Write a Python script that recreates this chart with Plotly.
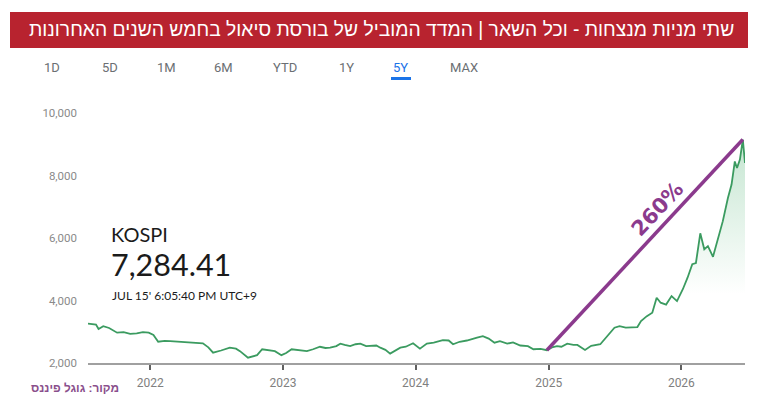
import plotly.graph_objects as go

# ---------------- data ----------------
dates = [
    "2021-07-14", "2021-07-26", "2021-08-05", "2021-08-12", "2021-08-25", "2021-09-10",
    "2021-10-02", "2021-10-20", "2021-11-07", "2021-11-25", "2021-12-12", "2021-12-28",
    "2022-01-10", "2022-01-23", "2022-02-10", "2022-02-25", "2022-03-20", "2022-04-20",
    "2022-05-10", "2022-05-26", "2022-06-10", "2022-06-23", "2022-07-15", "2022-08-08",
    "2022-08-25", "2022-09-05", "2022-09-27", "2022-10-12", "2022-10-22", "2022-11-05",
    "2022-11-27", "2022-12-10", "2022-12-28", "2023-01-10", "2023-01-25", "2023-02-15",
    "2023-03-08", "2023-03-25", "2023-04-13", "2023-04-28", "2023-05-11", "2023-05-28",
    "2023-06-08", "2023-06-20", "2023-07-05", "2023-07-20", "2023-08-02", "2023-08-18",
    "2023-08-29", "2023-09-15", "2023-09-26", "2023-10-10", "2023-10-23", "2023-11-05",
    "2023-11-20", "2023-12-05", "2023-12-25", "2024-01-13", "2024-02-01", "2024-02-20",
    "2024-03-16", "2024-04-01", "2024-04-13", "2024-05-01", "2024-05-21", "2024-06-18",
    "2024-07-04", "2024-07-20", "2024-08-05", "2024-08-20", "2024-09-09", "2024-09-25",
    "2024-10-15", "2024-11-05", "2024-11-20", "2024-12-10", "2024-12-27", "2025-01-10",
    "2025-01-24", "2025-02-05", "2025-02-21", "2025-03-10", "2025-03-21", "2025-04-11",
    "2025-04-28", "2025-05-23", "2025-06-10", "2025-07-01", "2025-07-15", "2025-08-01",
    "2025-09-02", "2025-09-12", "2025-09-28", "2025-10-13", "2025-10-25", "2025-11-05",
    "2025-11-20", "2025-12-05", "2025-12-20", "2026-01-05", "2026-01-18", "2026-01-31",
    "2026-02-10", "2026-02-22", "2026-03-05", "2026-03-15", "2026-03-29", "2026-04-10",
    "2026-04-25", "2026-05-09", "2026-05-19", "2026-05-28", "2026-06-03", "2026-06-11",
    "2026-06-19", "2026-06-25",
]
values = [
    3260, 3240, 3230, 3090, 3180, 3120,
    2970, 2990, 2930, 2950, 2990, 2970,
    2900, 2680, 2710, 2700, 2680, 2650,
    2620, 2630, 2500, 2330, 2400, 2490,
    2460, 2380, 2170, 2220, 2250, 2440,
    2410, 2380, 2250, 2320, 2440, 2420,
    2380, 2440, 2520, 2480, 2490, 2540,
    2620, 2580, 2540, 2600, 2620, 2540,
    2540, 2560, 2490, 2420, 2300, 2380,
    2490, 2520, 2630, 2460, 2620, 2650,
    2730, 2720, 2600, 2680, 2720, 2810,
    2860, 2780, 2650, 2700, 2620, 2660,
    2560, 2540, 2440, 2450, 2410, 2500,
    2540, 2520, 2620, 2580, 2580, 2420,
    2550, 2600, 2860, 3130, 3180, 3130,
    3150, 3340, 3500, 3610, 4090, 3930,
    3870, 4140, 3980, 4360, 4730, 5160,
    5200, 6150, 5640, 5740, 5400, 5900,
    6540, 7280, 7710, 8450, 8240, 8510,
    9150, 8400,
]

trend_dates = ["2024-12-27", "2026-06-19"]
trend_values = [2410, 9150]
trend_label = "260%"
trend_label_date = "2025-10-27"
trend_label_value = 6930

year_ticks = ["2022-01-01", "2023-01-01", "2024-01-01", "2025-01-01", "2026-01-01"]
year_labels = ["2022", "2023", "2024", "2025", "2026"]
y_ticks = [2000, 4000, 6000, 8000, 10000]
y_labels = ["2,000", "4,000", "6,000", "8,000", "10,000"]

tabs = ["1D", "5D", "1M", "6M", "YTD", "1Y", "5Y", "MAX"]
active_tab = "5Y"

title_text = "שתי מניות מנצחות - וכל השאר | המדד המוביל של בורסת סיאול בחמש השנים האחרונות"
ticker = "KOSPI"
price = "7,284.41"
timestamp = "JUL 15' 6:05:40 PM UTC+9"
source = "מקור: גוגל פיננס"

# ---------------- layout helpers ----------------
# page body has an 8px margin, so the figure is drawn 8px in from the window corner
OFF = 8
W, H = 758 - OFF, 408 - OFF
L, R, T, B = 88 - OFF, 13, 113 - OFF, 45
PW, PH = W - L - R, H - T - B


def px(xp):
    """reference window x pixel -> paper x"""
    return (xp - OFF - L) / PW


def py(yp):
    """reference window y pixel -> paper y"""
    return (H - B - (yp - OFF)) / PH


GREEN = "#3b9b60"
PURPLE = "#8b3a8d"
RED = "#b8232f"

fig = go.Figure()

# gradient fill under the line
fig.add_trace(go.Scatter(
    x=dates, y=values, mode="none", fill="tozeroy",
    fillgradient=dict(type="vertical",
                      colorscale=[[0, "rgba(60,170,100,0)"], [1, "rgba(60,170,100,0.30)"]],
                      start=4200, stop=9200),
    hoverinfo="skip", showlegend=False,
))
fig.add_trace(go.Scatter(
    x=dates, y=values, mode="lines",
    line=dict(color=GREEN, width=1.8), showlegend=False,
))
fig.add_trace(go.Scatter(
    x=trend_dates, y=trend_values, mode="lines",
    line=dict(color=PURPLE, width=3.5), showlegend=False,
))

annotations = []
annotations.append(dict(
    x=trend_label_date, y=trend_label_value, xref="x", yref="y",
    text=f"<b>{trend_label}</b>", showarrow=False, textangle=-47,
    font=dict(family="DejaVu Sans", size=21, color=PURPLE),
))

# header
annotations.append(dict(
    x=px(381.5), y=py(30), xref="paper", yref="paper", xanchor="center", yanchor="middle",
    text=title_text, showarrow=False,
    font=dict(family="Liberation Sans, Arial", size=19.3, color="white"),
))

# tabs
tab_x = [52, 110, 166, 223, 285, 346, 400, 464]
for t, xp in zip(tabs, tab_x):
    annotations.append(dict(
        x=px(xp), y=py(67), xref="paper", yref="paper", xanchor="center", yanchor="middle",
        text=t, showarrow=False,
        font=dict(family="Roboto", size=13,
                  color="#1a73e8" if t == active_tab else "#6b6f73"),
    ))

# price block (ticker + price as one two-line text)
annotations += [
    dict(x=px(110), y=py(221), xref="paper", yref="paper", xanchor="left", yanchor="top",
         text=(f"<span style='font-size:20px'>{ticker}</span><br>"
               f"<span style='font-size:30.5px'>{price}</span>"),
         showarrow=False, borderpad=0, align="left",
         font=dict(family="Lato", size=26.2, color="#1b1b1b")),
    dict(x=px(111), y=py(295), xref="paper", yref="paper", xanchor="left", yanchor="middle",
         text=timestamp, showarrow=False, borderpad=0,
         font=dict(family="Lato", size=12, color="#1b1b1b")),
    dict(x=px(75), y=py(388), xref="paper", yref="paper", xanchor="center", yanchor="middle",
         text=f"<b>{source}</b>", showarrow=False,
         font=dict(family="Liberation Sans, Arial", size=11.8, color="#8a4f8c")),
]

shapes = [
    dict(type="rect", xref="paper", yref="paper", x0=px(10), x1=px(748), y0=py(12), y1=py(48),
         fillcolor=RED, line=dict(width=0), layer="below"),
    dict(type="line", xref="paper", yref="paper", x0=px(391), x1=px(411), y0=py(78.5), y1=py(78.5),
         line=dict(color="#1a73e8", width=3)),
]

fig.update_layout(
    width=W, height=H,
    margin=dict(l=L, r=R, t=T, b=B),
    paper_bgcolor="white", plot_bgcolor="white",
    showlegend=False,
    annotations=annotations, shapes=shapes,
    xaxis=dict(
        type="date", range=["2021-07-14", "2026-06-25"],
        tickvals=year_ticks, ticktext=year_labels,
        showgrid=False, zeroline=False,
        showline=True, linecolor="#a0a0a0", linewidth=1.5,
        ticks="outside", ticklen=5, tickwidth=1.5, tickcolor="#606060",
        ticklabelstandoff=3,
        tickfont=dict(family="Roboto", size=12, color="#808080"),
        fixedrange=True,
    ),
    yaxis=dict(
        range=[2000, 10000],
        tickvals=y_ticks, ticktext=y_labels,
        showgrid=False, zeroline=False, showline=False,
        ticks="", ticklabelstandoff=10,
        tickfont=dict(family="Roboto", size=11.5, color="#8a8a8a"),
        fixedrange=True,
    ),
)

fig.write_html("out.html")
